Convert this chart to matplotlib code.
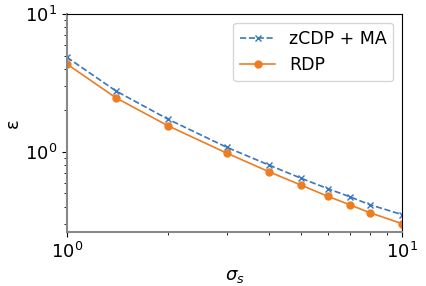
import matplotlib
matplotlib.use("Agg")
import matplotlib.pyplot as plt
from matplotlib.ticker import NullFormatter

# valores de sigma y epsilon
sigma = [1, 1.4, 2, 3, 4, 5, 6, 7, 8, 10]
eps_zcdp = [4.86, 2.77, 1.73, 1.08, 0.805, 0.644, 0.542, 0.472, 0.415, 0.351]
eps_rdp = [4.34, 2.47, 1.55, 0.98, 0.72, 0.574, 0.477, 0.413, 0.363, 0.302]

fig, ax = plt.subplots(figsize=(4.26, 2.86), dpi=100)
fig.subplots_adjust(left=0.157, right=0.944, top=0.951, bottom=0.189)

ax.plot(sigma, eps_zcdp, '--x', color='#3a75bf', lw=1.2, ms=5, label='zCDP + MA')
ax.plot(sigma, eps_rdp, '-o', color='#ee7d22', lw=1.2, ms=5, label='RDP')

ax.set_xscale('log')
ax.set_yscale('log')
ax.set_xlim(1, 10)
ax.set_ylim(0.263, 10)
ax.xaxis.set_minor_formatter(NullFormatter())
ax.yaxis.set_minor_formatter(NullFormatter())

# ejes izquierdo e inferior en gris
for s in ['left', 'bottom']:
    ax.spines[s].set_color('#888888')
    ax.spines[s].set_linewidth(1.5)

ax.tick_params(labelsize=13)
ax.set_xlabel(r'$\sigma_s$', fontsize=13)
ax.set_ylabel('ε', fontsize=13)
ax.yaxis.set_label_coords(-0.135, 0.5)
ax.legend(loc='upper right', fontsize=12.5)

fig.savefig('out.png', dpi=100)
